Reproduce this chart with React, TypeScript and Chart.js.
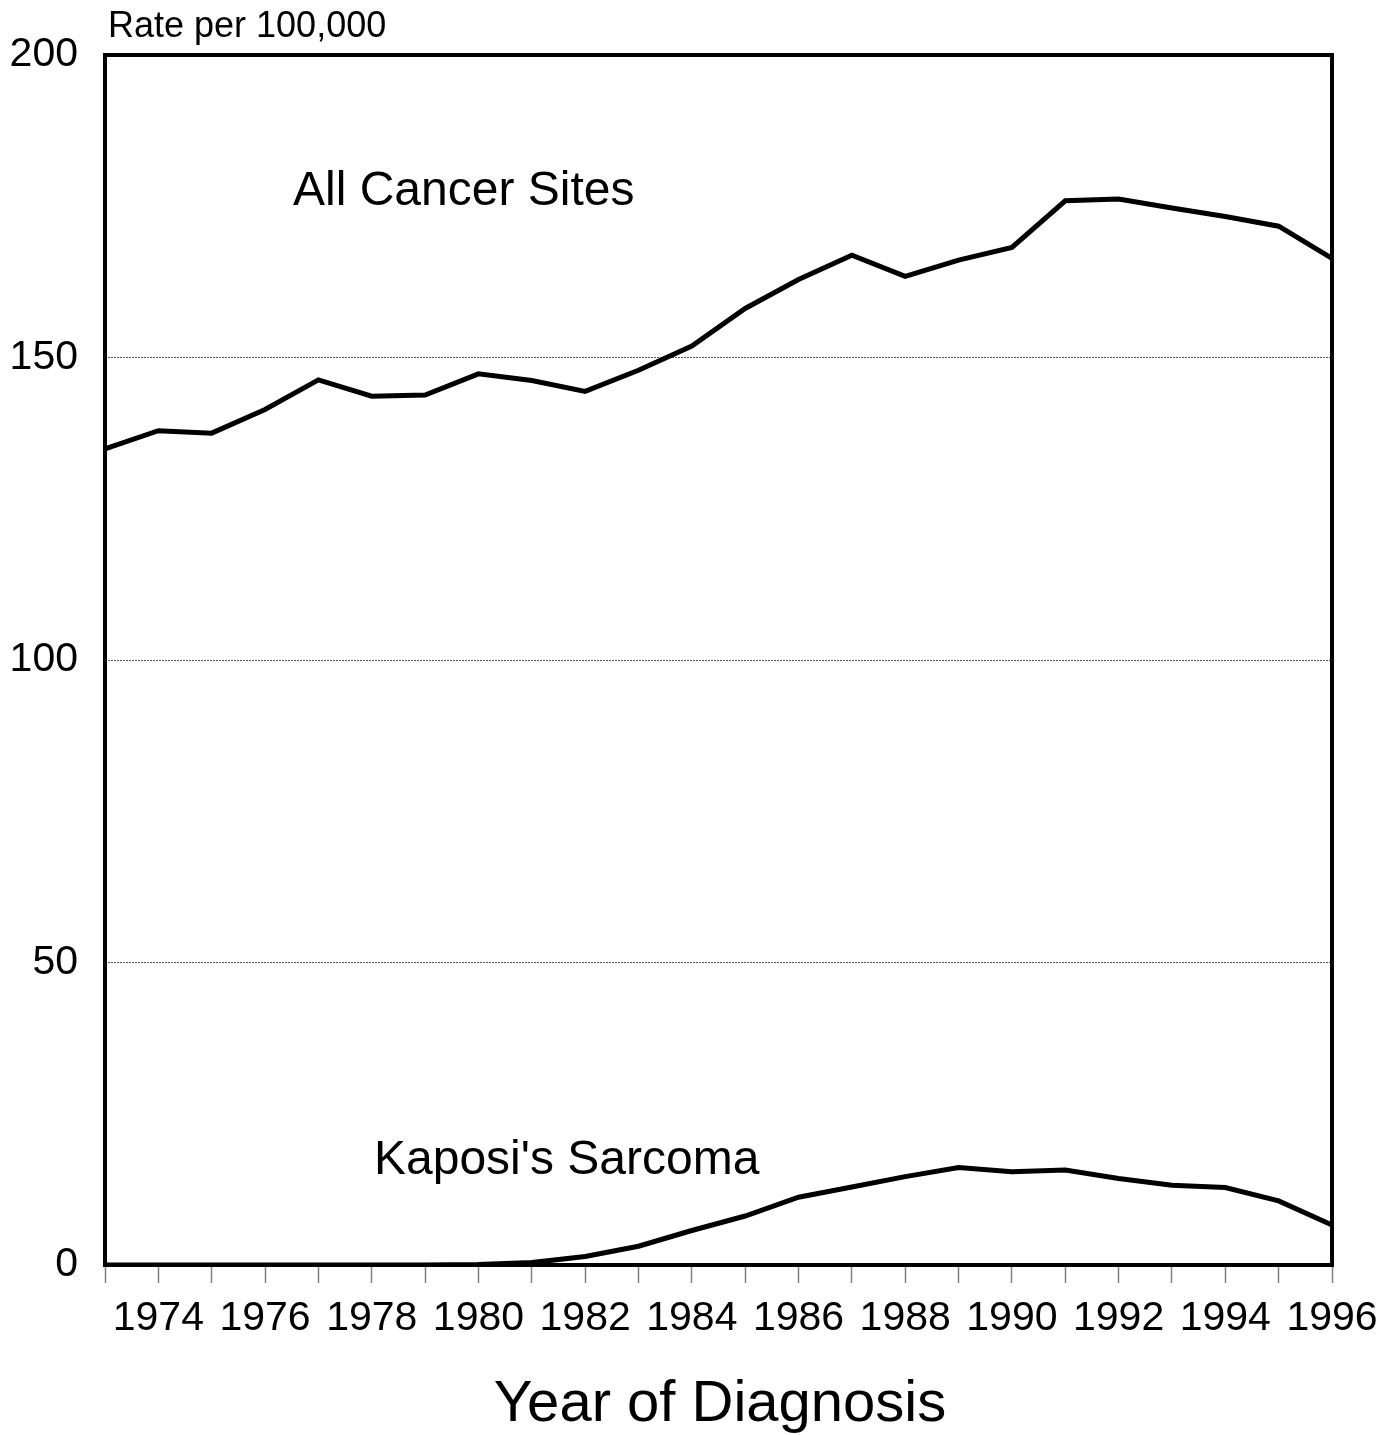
import React, { useEffect, useRef } from "react";
import { Chart, registerables } from "chart.js";

Chart.register(...registerables);

const years: number[] = [
  1973, 1974, 1975, 1976, 1977, 1978, 1979, 1980, 1981, 1982, 1983, 1984,
  1985, 1986, 1987, 1988, 1989, 1990, 1991, 1992, 1993, 1994, 1995, 1996,
];
const allCancerSites: number[] = [
  134.9, 137.9, 137.5, 141.4, 146.3, 143.6, 143.8, 147.3, 146.2, 144.4, 147.9, 151.9,
  158.1, 162.9, 166.9, 163.4, 166.1, 168.2, 175.9, 176.2, 174.7, 173.3, 171.7, 166.4,
];
const kaposiSarcoma: number[] = [
  0, 0, 0, 0, 0, 0, 0, 0.1, 0.4, 1.4, 3.1, 5.7,
  8.1, 11.2, 12.9, 14.6, 16.1, 15.4, 15.7, 14.3, 13.2, 12.8, 10.6, 6.6,
];
const yTicks: number[] = [0, 50, 100, 150, 200];
const yAxisLabel = "Rate per 100,000";
const xAxisTitle = "Year of Diagnosis";
const seriesLabels = ["All Cancer Sites", "Kaposi's Sarcoma"];

const FONT = "Arial, 'Liberation Sans', Helvetica, sans-serif";

const decorPlugin = {
  id: "decor",
  afterDraw(chart: any) {
    const { ctx, chartArea } = chart;
    ctx.save();
    ctx.strokeStyle = "#000";
    ctx.lineWidth = 4;
    ctx.strokeRect(
      chartArea.left,
      chartArea.top,
      chartArea.right - chartArea.left,
      chartArea.bottom - chartArea.top
    );
    ctx.fillStyle = "#000";
    ctx.textBaseline = "alphabetic";
    ctx.textAlign = "left";
    ctx.font = `36px ${FONT}`;
    ctx.fillText(yAxisLabel, 108, 37);
    ctx.font = `48px ${FONT}`;
    ctx.fillText(seriesLabels[0], 293, 205);
    ctx.fillText(seriesLabels[1], 374, 1174);
    ctx.font = `58px ${FONT}`;
    ctx.textAlign = "center";
    ctx.fillText(xAxisTitle, 720, 1421);
    ctx.restore();
  },
};

export default function App() {
  const ref = useRef<HTMLCanvasElement | null>(null);
  useEffect(() => {
    if (!ref.current) return;
    const chart = new Chart(ref.current, {
      type: "line",
      data: {
        labels: years.map(String),
        datasets: [
          {
            label: seriesLabels[0],
            data: allCancerSites,
            borderColor: "#000",
            borderWidth: 5,
            pointRadius: 0,
            tension: 0,
            fill: false,
          },
          {
            label: seriesLabels[1],
            data: kaposiSarcoma,
            borderColor: "#000",
            borderWidth: 5,
            pointRadius: 0,
            tension: 0,
            fill: false,
          },
        ],
      },
      options: {
        animation: false,
        responsive: true,
        maintainAspectRatio: false,
        layout: { padding: { top: 55, right: 62, left: 0, bottom: 0 } },
        plugins: {
          legend: { display: false },
          tooltip: { enabled: false },
          title: { display: false },
        },
        scales: {
          x: {
            type: "category",
            offset: false,
            afterFit(scale: any) {
              scale.height = 170;
            },
            grid: {
              drawOnChartArea: false,
              drawTicks: true,
              tickLength: 18,
              tickColor: "#808080",
              tickWidth: 1.5,
              color: "#808080",
            },
            border: { display: false },
            ticks: {
              autoSkip: false,
              maxRotation: 0,
              minRotation: 0,
              padding: 11,
              color: "#000",
              font: { family: FONT, size: 41 },
              callback: (_v: any, i: number) =>
                years[i] % 2 === 0 ? String(years[i]) : "",
            },
          },
          y: {
            min: 0,
            max: 200,
            afterFit(scale: any) {
              scale.width = 105;
            },
            afterBuildTicks(scale: any) {
              scale.ticks = yTicks.map((v) => ({ value: v }));
            },
            grid: {
              drawTicks: false,
              color: "#555",
              lineWidth: 1,
            },
            border: { display: false, dash: [2, 1] },
            ticks: {
              padding: 27,
              color: "#000",
              font: { family: FONT, size: 41 },
            },
          },
        },
      },
      plugins: [decorPlugin],
    });
    return () => chart.destroy();
  }, []);
  return (
    <div
      style={{
        position: "absolute",
        left: 0,
        top: 0,
        width: 1394,
        height: 1435,
        background: "#fff",
      }}
    >
      <canvas ref={ref} />
    </div>
  );
}
